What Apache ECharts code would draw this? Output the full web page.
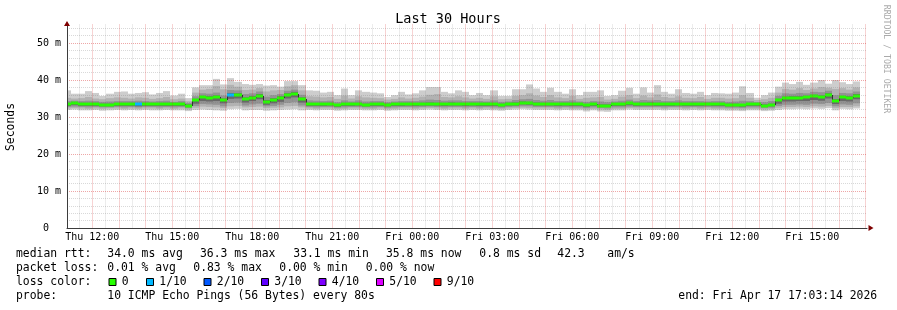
<!DOCTYPE html>
<html><head><meta charset="utf-8">
<script src="https://cdn.jsdelivr.net/npm/echarts@6/dist/echarts.min.js"></script>
<style>html,body{margin:0;padding:0;background:#fff}#c{width:897px;height:310px}</style>
</head><body><div id="c"></div>
<script>
// ---- data (16-minute consolidated blocks, ms) ----
const med = [33.4,33.8,33.5,33.4,33.5,33.3,33.3,33.4,33.4,33.5,
 33.4,33.5,33.4,33.4,33.5,33.4,33.5,33.1,34.5,35.3,
 35.1,35.3,34.5,36.0,36.0,34.8,35.2,35.8,34.1,34.6,
 35.1,36.0,36.3,34.8,33.5,33.4,33.4,33.5,33.2,33.4,
 33.4,33.5,33.3,33.4,33.5,33.3,33.4,33.4,33.5,33.4,
 33.5,33.6,33.5,33.4,33.6,33.5,33.4,33.5,33.4,33.5,
 33.4,33.3,33.5,33.6,33.9,33.8,33.6,33.5,33.5,33.4,
 33.5,33.5,33.4,33.2,33.4,33.1,33.1,33.4,33.4,33.7,
 33.5,33.5,33.6,33.5,33.4,33.5,33.5,33.4,33.5,33.4,
 33.5,33.4,33.4,33.3,33.3,33.2,33.4,33.4,33.1,33.3,
 34.5,35.1,35.2,35.2,35.3,35.6,35.4,36.0,34.4,35.3,
 35.2,35.8];
const p10 = [37.2,36.3,36.3,37.0,36.5,35.7,36.3,36.8,36.9,36.3,
 36.5,36.7,36.1,36.5,37.0,35.8,36.3,35.1,38.0,38.6,
 38.6,40.3,38.8,40.5,39.5,38.9,38.7,38.9,38.5,38.6,
 38.2,39.7,39.7,38.6,37.2,37.1,36.6,36.8,35.9,37.7,
 35.9,37.2,36.8,36.6,36.4,35.4,35.9,36.8,36.1,36.4,
 37.2,38.1,38.1,36.8,36.4,37.2,36.8,35.9,36.5,35.9,
 37.2,35.7,35.7,37.5,37.5,38.8,37.7,36.8,37.9,36.8,
 36.3,37.5,35.9,36.8,36.8,37.2,35.7,35.9,37.1,37.9,
 36.3,38.0,36.6,38.6,36.8,36.3,37.5,36.5,36.3,36.8,
 35.9,36.5,36.4,36.3,36.6,38.3,36.5,35.2,35.9,36.6,
 38.2,39.3,38.9,39.5,38.7,39.3,40.0,39.0,40.0,39.4,
 38.9,39.6];
const p9 = [35.2,35.0,35.1,35.4,35.0,34.8,35.1,35.3,35.2,35.0,
 35.3,35.2,34.9,35.1,35.4,34.8,35.0,34.3,36.6,37.4,
 37.6,38.4,37.5,38.7,38.2,37.3,37.4,37.8,36.9,37.2,
 37.3,38.3,38.6,37.2,35.6,35.5,35.3,35.4,34.9,35.8,
 35.0,35.6,35.3,35.2,35.1,34.7,34.9,35.3,35.0,35.2,
 35.5,36.0,36.2,35.4,35.3,35.6,35.3,35.0,35.2,34.9,
 35.6,34.8,34.9,35.7,35.9,36.4,35.8,35.4,35.9,35.3,
 35.1,35.7,34.9,35.2,35.3,35.4,34.7,34.9,35.5,35.9,
 35.1,35.8,35.3,36.1,35.4,35.2,35.6,35.2,35.1,35.4,
 34.9,35.2,35.2,35.0,35.1,35.9,35.2,34.6,34.8,35.2,
 36.6,37.6,37.4,37.8,37.3,37.7,38.1,37.9,37.6,37.8,
 37.4,38.0];
const p8 = [34.3,34.4,34.3,34.4,34.3,34.1,34.2,34.3,34.3,34.3,
 34.4,34.3,34.2,34.3,34.4,34.1,34.3,33.8,35.6,36.4,
 36.3,36.6,35.8,37.3,37.2,36.2,36.4,36.9,35.5,35.9,
 36.2,37.1,37.4,36.0,34.5,34.4,34.3,34.4,34.0,34.5,
 34.2,34.5,34.2,34.3,34.3,34.0,34.2,34.3,34.3,34.3,
 34.5,34.7,34.6,34.4,34.5,34.5,34.3,34.3,34.3,34.2,
 34.5,34.1,34.2,34.6,34.8,34.9,34.6,34.4,34.6,34.3,
 34.3,34.5,34.2,34.1,34.3,34.2,34.0,34.2,34.4,34.7,
 34.3,34.6,34.5,34.6,34.3,34.3,34.5,34.3,34.3,34.3,
 34.2,34.3,34.3,34.1,34.2,34.4,34.3,34.0,34.0,34.3,
 35.7,36.4,36.3,36.5,36.4,36.8,36.7,37.1,35.9,36.5,
 36.4,36.9];
const p7 = [33.7,34.0,33.8,33.7,33.8,33.6,33.6,33.7,33.7,33.8,
 33.7,33.8,33.7,33.7,33.8,33.7,33.8,33.4,34.9,35.7,
 35.6,35.8,35.0,36.5,36.4,35.3,35.7,36.2,34.6,35.1,
 35.6,36.4,36.8,35.3,33.8,33.7,33.7,33.8,33.5,33.7,
 33.7,33.8,33.6,33.7,33.8,33.6,33.7,33.7,33.8,33.7,
 33.8,33.9,33.8,33.7,33.9,33.8,33.7,33.8,33.7,33.8,
 33.7,33.6,33.8,33.9,34.2,34.1,33.9,33.8,33.8,33.7,
 33.8,33.8,33.7,33.5,33.7,33.4,33.4,33.7,33.7,34.0,
 33.8,33.8,33.9,33.8,33.7,33.8,33.8,33.7,33.8,33.7,
 33.8,33.7,33.7,33.6,33.6,33.5,33.7,33.7,33.4,33.6,
 34.9,35.5,35.6,35.6,35.7,36.0,35.8,36.4,34.8,35.7,
 35.6,36.2];
const p4 = [33.0,33.2,33.0,33.0,33.0,32.9,32.9,33.0,33.0,33.0,
 32.9,33.0,33.0,33.0,33.0,33.0,33.0,32.7,33.6,34.3,
 34.2,34.3,33.7,34.9,35.0,33.9,34.3,34.8,33.3,33.7,
 34.1,35.0,35.3,33.9,33.0,33.0,33.0,33.1,32.8,33.0,
 33.0,33.1,32.9,33.0,33.0,32.9,33.0,33.0,33.1,33.0,
 33.1,33.1,33.1,33.0,33.1,33.1,33.0,33.1,33.0,33.0,
 33.0,32.9,33.1,33.1,33.4,33.3,33.1,33.1,33.1,33.0,
 33.1,33.0,33.0,32.8,33.0,32.7,32.7,33.0,33.0,33.2,
 33.0,33.1,33.1,33.0,33.0,33.0,33.1,33.0,33.0,33.0,
 33.1,33.0,33.0,32.9,32.9,32.8,33.0,33.0,32.7,32.9,
 33.6,34.2,34.2,34.3,34.3,34.6,34.4,35.0,33.5,34.3,
 34.2,34.8];
const p3 = [32.7,32.8,32.7,32.6,32.7,32.6,32.6,32.7,32.6,32.7,
 32.6,32.7,32.7,32.6,32.7,32.6,32.7,32.4,33.0,33.5,
 33.4,33.3,32.9,33.8,33.9,33.1,33.4,33.6,32.9,33.0,
 33.3,33.8,34.0,33.1,32.7,32.6,32.7,32.7,32.5,32.6,
 32.7,32.7,32.6,32.6,32.7,32.5,32.6,32.7,32.7,32.6,
 32.7,32.8,32.7,32.6,32.7,32.7,32.6,32.7,32.6,32.7,
 32.6,32.5,32.7,32.8,32.9,32.9,32.7,32.7,32.7,32.6,
 32.7,32.6,32.6,32.4,32.6,32.4,32.3,32.6,32.6,32.8,
 32.7,32.7,32.7,32.7,32.6,32.7,32.7,32.6,32.7,32.6,
 32.7,32.6,32.6,32.5,32.5,32.4,32.6,32.6,32.4,32.5,
 33.0,33.3,33.3,33.4,33.3,33.6,33.5,33.8,32.9,33.4,
 33.3,33.7];
const p2 = [32.3,32.4,32.3,32.2,32.3,32.2,32.3,32.3,32.2,32.3,
 32.2,32.3,32.3,32.2,32.3,32.2,32.3,32.0,32.5,32.8,
 32.7,32.6,32.4,32.9,33.0,32.6,32.7,32.8,32.4,32.5,
 32.6,32.9,33.0,32.6,32.3,32.2,32.3,32.3,32.1,32.2,
 32.3,32.3,32.2,32.2,32.3,32.1,32.2,32.3,32.3,32.2,
 32.3,32.4,32.3,32.2,32.3,32.3,32.2,32.3,32.2,32.3,
 32.2,32.1,32.3,32.4,32.5,32.4,32.3,32.3,32.3,32.2,
 32.3,32.2,32.2,32.0,32.2,32.0,31.9,32.2,32.2,32.4,
 32.3,32.3,32.3,32.3,32.2,32.3,32.3,32.2,32.3,32.2,
 32.3,32.2,32.2,32.1,32.1,32.0,32.2,32.2,32.0,32.1,
 32.5,32.7,32.7,32.8,32.7,32.9,32.8,33.0,32.4,32.7,
 32.7,32.9];
const p1 = [31.9,32.0,31.8,31.8,31.9,31.7,31.8,31.9,31.8,31.9,
 31.8,31.9,31.8,31.8,31.9,31.8,31.8,31.6,31.9,32.0,
 31.9,31.8,31.7,32.1,32.2,31.8,31.9,31.9,31.7,31.8,
 31.9,32.0,32.1,31.8,31.9,31.8,31.9,31.9,31.7,31.8,
 31.9,31.9,31.8,31.8,31.9,31.7,31.8,31.9,31.9,31.8,
 31.9,32.0,31.9,31.8,31.9,31.9,31.8,31.9,31.8,31.9,
 31.8,31.7,31.9,32.0,32.1,32.0,31.9,31.9,31.9,31.8,
 31.9,31.8,31.8,31.5,31.8,31.5,31.4,31.8,31.8,32.0,
 31.9,31.9,31.9,31.9,31.8,31.9,31.9,31.8,31.9,31.8,
 31.9,31.8,31.8,31.7,31.7,31.6,31.8,31.8,31.6,31.7,
 31.9,32.1,32.1,32.2,32.1,32.3,32.2,32.4,31.8,32.2,
 32.1,32.3];
const lossCount = [0,0,0,0,0,0,0,0,0,0,
 1,0,0,0,0,0,0,0,0,0,
 0,0,0,1,0,0,0,0,0,0,
 0,0,0,0,0,0,0,0,0,0,
 0,0,0,0,0,0,0,0,0,0,
 0,0,0,0,0,0,0,0,0,0,
 0,0,0,0,0,0,0,0,0,0,
 0,0,0,0,0,0,0,0,0,0,
 0,0,0,0,0,0,0,0,0,0,
 0,0,0,0,0,0,0,0,0,0,
 0,0,0,0,0,0,0,0,0,0,
 0,0];
const lossLabels = ['0','1/10','2/10','3/10','4/10','5/10','9/10'];
const lossColors = ['#26ff00','#00b8ff','#0059ff','#5e00ff','#7e00ff','#dd00ff','#ff0000'];
const dayNames = ['Thu','Fri'];
const yTicks = [0,10,20,30,40,50];
const yMinorOffsets = [2,4,6,8];

// time frame
const endTime = Date.UTC(2026,3,17,17,3,14)/1000;
const spanSec = 30*3600;
const startTime = endTime - spanSec;
const blockSec = 960;
const firstBlock = Math.floor(startTime/blockSec)*blockSec;
const dayZero = Date.UTC(2026,3,16,0,0,0)/1000; // Thu 00:00
const startH = (startTime - dayZero)/3600;

// layout
const PL = 67, PW = 800, PB = 228, PT = 24.5, YMAX = 55;
const pxH = PW/30;
const pxMs = (PB-PT)/YMAX;
const mono = '"DejaVu Sans Mono", monospace';

const data = med.map((m,k)=>[firstBlock+k*blockSec, firstBlock+(k+1)*blockSec,
  p1[k],p2[k],p3[k],p4[k],p7[k],p8[k],p9[k],p10[k], m, lossCount[k], k>0?med[k-1]:m]);

const layers = [
  {lo:2,hi:9,color:'#cdcdcd'},
  {lo:3,hi:8,color:'#b2b2b2'},
  {lo:4,hi:7,color:'#939393'},
  {lo:5,hi:6,color:'#686868'}
];
function lossIdx(n){ return n<=0?0:(n<=5?n:(n>=9?6:5)); }

function renderItem(params, api){
  const cs = params.coordSys;
  const t0 = api.value(0), t1 = api.value(1);
  const kids = [];
  layers.forEach(L=>{
    const a = api.coord([t0, api.value(L.hi)]);
    const b = api.coord([t1, api.value(L.lo)]);
    const x0 = Math.round(a[0]), x1 = Math.round(b[0]);
    const r = echarts.graphic.clipRectByRect({x:x0,y:a[1],width:x1-x0,height:b[1]-a[1]}, cs);
    if (r) kids.push({type:'rect', shape:r, style:{fill:L.color}});
  });
  const pm = api.coord([t0, api.value(12)]);
  const pc = api.coord([t0, api.value(10)]);
  const pe = api.coord([t1, api.value(10)]);
  const x0 = Math.round(pm[0]), x1 = Math.round(pe[0]);
  const yy = Math.round(pc[1]);
  if (x0 >= cs.x && Math.abs(pm[1]-pc[1]) > 1) {
    kids.push({type:'line', shape:{x1:x0+0.5,y1:Math.round(pm[1]),x2:x0+0.5,y2:yy}, style:{stroke:'#333',lineWidth:1}});
  }
  const mr = echarts.graphic.clipRectByRect({x:x0,y:yy-1.5,width:x1-x0,height:3}, cs);
  if (mr) kids.push({type:'rect', shape:mr, style:{fill:lossColors[lossIdx(api.value(11))]}});
  return {type:'group', children:kids};
}

const hideAxis = {axisLine:{show:false},axisTick:{show:false},axisLabel:{show:false},splitLine:{show:false}};
const redLine = {color:'rgba(215,45,45,0.42)', type:[1,1], width:1};
const grayLine = {color:'rgba(120,120,120,0.28)', type:[1,1], width:1};

const graphics = [];
function txt(x,y,s,opt){
  opt = opt||{};
  graphics.push({type:'text', x:x, y:y, rotation:opt.rot||0, z:10,
    style:{text:s, font:(opt.size||11.4)+'px '+mono, fill:opt.color||'#000',
      textAlign:opt.align||'left', textVerticalAlign:'middle', align:opt.align||'left', verticalAlign:'middle'}});
}
txt(448,19.5,'Last 30 Hours',{size:13.5,align:'center'});
txt(11,127,'Seconds',{rot:Math.PI/2,align:'center'});
txt(886,59,'RRDTOOL / TOBI OETIKER',{rot:-Math.PI/2,align:'center',size:8.2,color:'#aaaaaa'});
const r1 = [[16,'median rtt:'],[107.3,'34.0 ms avg'],[200,'36.3 ms max'],[293.3,'33.1 ms min'],[386,'35.8 ms now'],[479.3,'0.8 ms sd'],[557.3,'42.3'],[607.3,'am/s']];
r1.forEach(e=>txt(e[0],254.5,e[1]));
const r2 = [[16,'packet loss:'],[107.3,'0.01 % avg'],[193.3,'0.83 % max'],[279.3,'0.00 % min'],[365.7,'0.00 % now']];
r2.forEach(e=>txt(e[0],268.5,e[1]));
txt(16,282.5,'loss color:');
const boxX = [108.5,146,203.5,261,318.5,376,433.5];
lossLabels.forEach((l,i)=>{
  graphics.push({type:'rect', shape:{x:boxX[i]+0.5,y:278.5,width:7,height:7}, z:10,
    style:{fill:lossColors[i], stroke:'#000', lineWidth:1}});
  txt(boxX[i]+13.3,282.5,l);
});
txt(16,296.5,'probe:');
txt(107.3,296.5,'10 ICMP Echo Pings (56 Bytes) every 80s');
txt(678.3,296.5,'end: Fri Apr 17 17:03:14 2026');

// grids: 0 data, 1 hour lines, 2 half-hour lines, 3.. minor horizontal lines
const grids = [
  {left:PL, top:PT, width:PW, height:PB-PT},
  {left:PL-(startH-11)*pxH, top:PT, width:30*pxH, height:PB-PT},
  {left:PL+(11.5-startH)*pxH, top:PT, width:29*pxH, height:PB-PT}
];
const xAxes = [
  {gridIndex:0, type:'value', min:startTime, max:endTime, z:5,
    axisLine:{show:true, lineStyle:{color:'#3c3c3c',width:1}}, axisTick:{show:false}, axisLabel:{show:false}, splitLine:{show:false}},
  {gridIndex:0, type:'value', min:startTime, max:endTime, z:6,
    axisLine:{show:true, symbol:['none','triangle'], symbolSize:[6,5], symbolOffset:[0,4], lineStyle:{color:'#7f0000',width:0}},
    axisTick:{show:false}, axisLabel:{show:false}, splitLine:{show:false}},
  {gridIndex:1, type:'value', min:11, max:41, interval:1, z:4,
    axisLine:{show:false}, axisTick:{show:false},
    axisLabel:{show:true, margin:4, color:'#000', fontFamily:'DejaVu Sans Mono', fontSize:10,
      formatter:v=>{ if (v%3!==0) return ''; const d=dayNames[Math.floor(v/24)]; const h=v%24; return d+' '+String(h).padStart(2,'0')+':00'; }},
    splitLine:{show:true, showMinLine:false, showMaxLine:true, lineStyle:redLine}},
  {gridIndex:2, type:'value', min:11.5, max:40.5, interval:1, z:3,
    axisLine:{show:false}, axisTick:{show:false}, axisLabel:{show:false},
    splitLine:{show:true, showMinLine:true, showMaxLine:true, lineStyle:grayLine}}
];
const yAxes = [
  {gridIndex:0, type:'value', min:0, max:YMAX, interval:10, position:'left', z:5,
    axisLine:{show:true, lineStyle:{color:'#3c3c3c',width:1}}, axisTick:{show:false},
    axisLabel:{show:true, margin:6, color:'#000', fontFamily:'DejaVu Sans Mono', fontSize:10,
      formatter:v=> yTicks.indexOf(v)<0 ? '' : (v===0 ? '0  ' : v+' m')},
    splitLine:{show:true, showMinLine:false, showMaxLine:false, lineStyle:redLine}},
  {gridIndex:0, type:'value', min:0, max:YMAX, position:'left', z:6,
    axisLine:{show:true, symbol:['none','triangle'], symbolSize:[6,5], symbolOffset:[0,1], lineStyle:{color:'#7f0000',width:0}},
    axisTick:{show:false}, axisLabel:{show:false}, splitLine:{show:false}},
  Object.assign({gridIndex:1, type:'value', min:0, max:YMAX}, hideAxis),
  Object.assign({gridIndex:2, type:'value', min:0, max:YMAX}, hideAxis)
];
yMinorOffsets.forEach((o,i)=>{
  const lo = o, hi = o + 10*Math.floor((YMAX-1-o)/10);
  const gi = grids.length;
  grids.push({left:PL, width:PW, top:PB-hi*pxMs, height:(hi-lo)*pxMs});
  xAxes.push(Object.assign({gridIndex:gi, type:'value', min:0, max:1}, hideAxis));
  yAxes.push({gridIndex:gi, type:'value', min:lo, max:hi, interval:10, z:3,
    axisLine:{show:false}, axisTick:{show:false}, axisLabel:{show:false},
    splitLine:{show:true, showMinLine:true, showMaxLine:true, lineStyle:grayLine}});
});

const option = {
  animation:false,
  backgroundColor:'#ffffff',
  grid:grids,
  xAxis:xAxes,
  yAxis:yAxes,
  series:[{
    type:'custom', xAxisIndex:0, yAxisIndex:0, z:2, silent:true,
    renderItem:renderItem, data:data,
    encode:{x:[0,1], y:[2,3,4,5,6,7,8,9,10]}
  }],
  graphic:graphics
};
const chart = echarts.init(document.getElementById('c'));
chart.setOption(option);
</script></body></html>
